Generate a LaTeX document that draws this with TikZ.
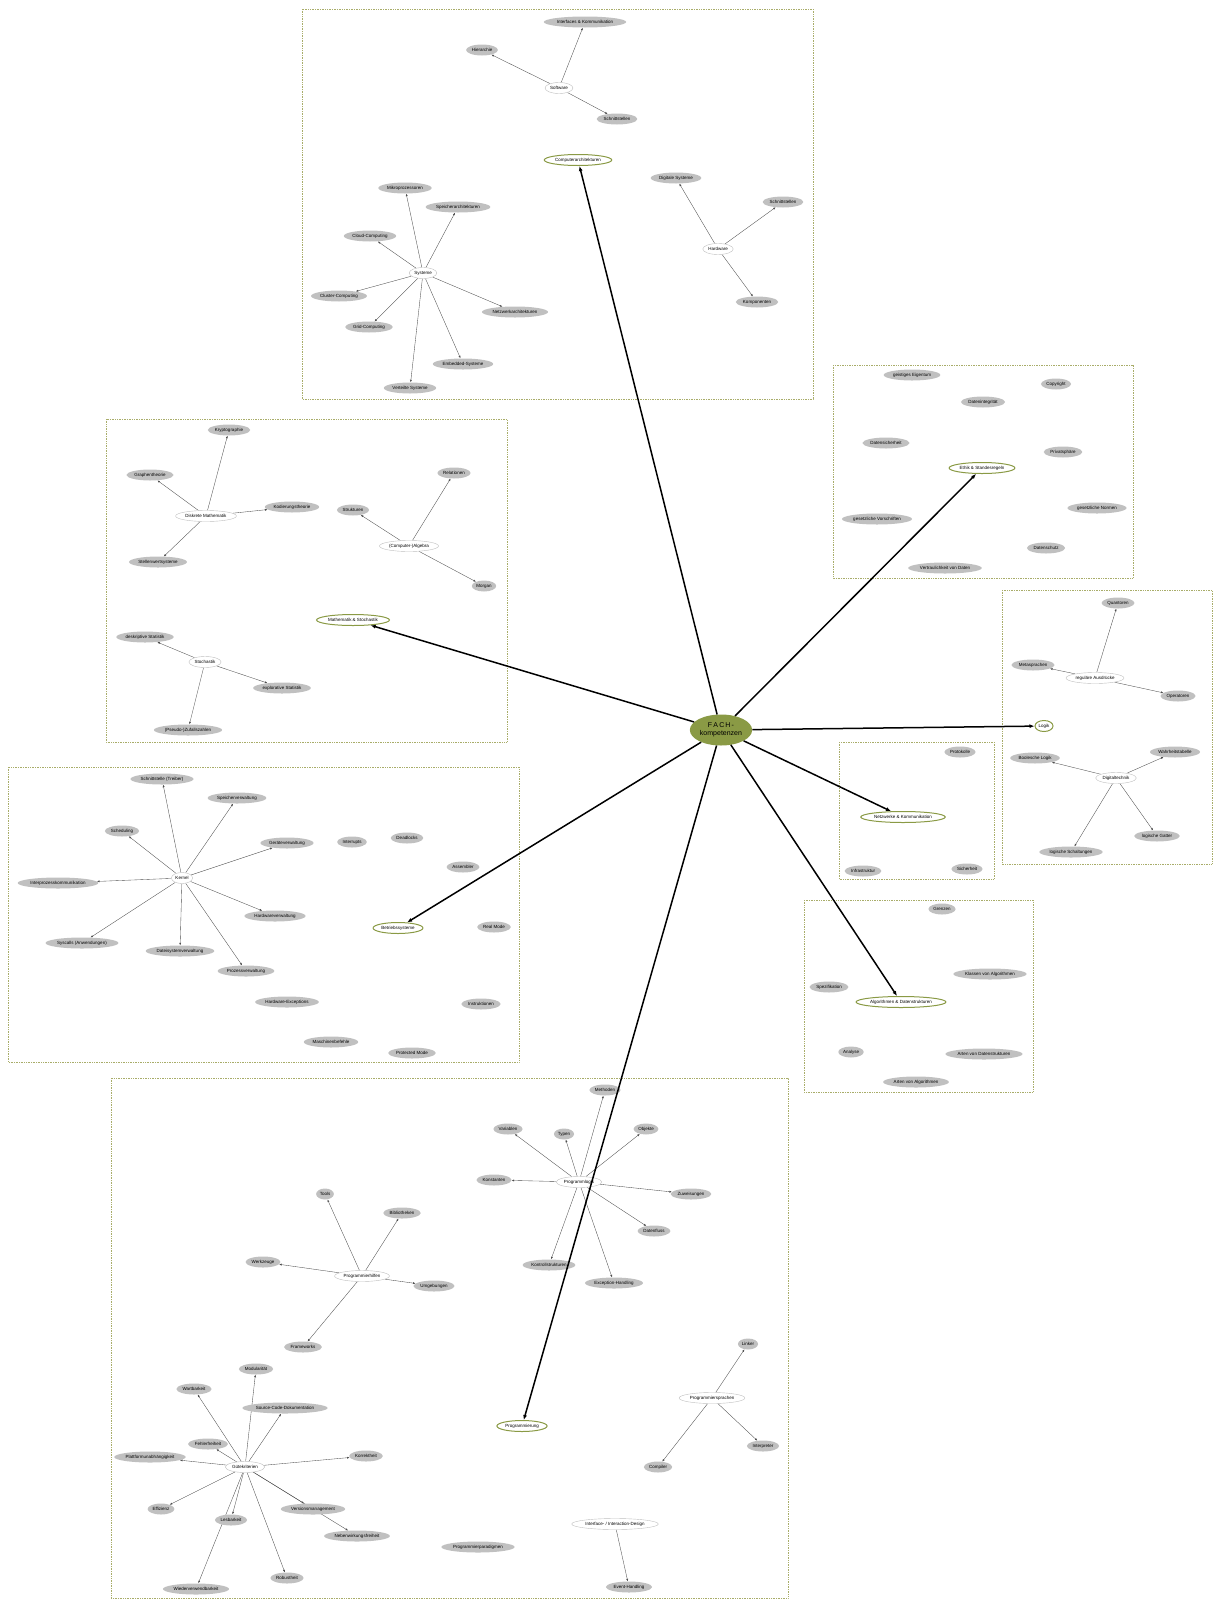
\documentclass[tikz,border=0pt]{standalone}
\usepackage{fontspec}
\setmainfont{Liberation Sans}
\usepackage{xcolor}
\usepackage{tikz}
\usetikzlibrary{shapes,arrows.meta,backgrounds}
\definecolor{oliv}{HTML}{8A9A45}
\definecolor{rahmenfarbe}{HTML}{A9AD6A}
\definecolor{blatt}{HTML}{C0C0C0}

\begin{document}
\begin{tikzpicture}[x=1pt,y=-1pt,font=\fontsize{4.5}{5}\selectfont,
  leaf/.style={ellipse, fill=blatt, inner xsep=1pt, inner ysep=1pt, minimum height=11pt},
  hub/.style={ellipse, draw=black!25, line width=0.4pt, fill=white, inner xsep=1pt, inner ysep=1pt, minimum height=11pt},
  topic/.style={ellipse, draw=oliv, line width=1pt, fill=white, inner xsep=1pt, inner ysep=1pt, minimum height=11pt},
  fach/.style={ellipse, fill=oliv, align=center, inner sep=1pt, minimum height=31pt, font=\fontsize{7}{8}\selectfont},
  rahmen/.style={densely dotted, draw=rahmenfarbe, line width=0.7pt},
  sub/.style={-{Latex[length=2.5pt,width=2pt]}, black!70, line width=0.35pt},
  haupt/.style={-{Latex[length=5pt,width=4pt]}, line width=1.5pt}]
\useasboundingbox (0,0) rectangle (1215,1601);

\draw[rahmen] (302,9) rectangle (813,399);
\draw[rahmen] (833,365) rectangle (1133,578);
\draw[rahmen] (1002,590) rectangle (1212,864);
\draw[rahmen] (106,419) rectangle (507,742);
\draw[rahmen] (8,767) rectangle (519,1062);
\draw[rahmen] (839,742) rectangle (994,879);
\draw[rahmen] (804,900) rectangle (1033,1092);
\draw[rahmen] (111,1078) rectangle (788,1598);

\node[fach] (fk) at (721,730) {F\,A\,C\,H\,-\\kompetenzen};

\node[topic] (ca) at (578,160) {Computerarchitekturen};
\node[hub] (sw) at (559,88) {Software};
\node[leaf] (ik) at (585,22) {Interfaces \& Kommunikation};
\node[leaf] (hi) at (482,50) {Hierarchie};
\node[leaf] (ssa) at (617,119) {Schnittstellen};
\node[hub] (hw) at (718,249) {Hardware};
\node[leaf] (dsy) at (676,178) {Digitale Systeme};
\node[leaf] (ssb) at (783,202) {Schnittstellen};
\node[leaf] (ko) at (757,302) {Komponenten};
\node[hub] (sy) at (423,273) {Systeme};
\node[leaf] (mp) at (405,188) {Mikroprozessoren};
\node[leaf] (sa) at (458,207) {Speicherarchitekturen};
\node[leaf] (cc) at (370,236) {Cloud-Computing};
\node[leaf] (cl) at (339,296) {Cluster-Computing};
\node[leaf] (na) at (515,312) {Netzwerkarchitekturen};
\node[leaf] (gc) at (369,327) {Grid-Computing};
\node[leaf] (es) at (463,364) {Embedded-Systeme};
\node[leaf] (vs) at (410,388) {Verteilte Systeme};

\node[topic] (et) at (982,468) {Ethik \& Standesregeln};
\node[leaf] (ge) at (912,375) {geistiges Eigentum};
\node[leaf] (cr) at (1056,384) {Copyright};
\node[leaf] (di) at (983,402) {Datenintegrität};
\node[leaf] (dsi) at (886,443) {Datensicherheit};
\node[leaf] (ps) at (1063,452) {Privatsphäre};
\node[leaf] (gn) at (1097,508) {gesetzliche Normen};
\node[leaf] (gv) at (877,519) {gesetzliche Vorschriften};
\node[leaf] (dsc) at (1046,548) {Datenschutz};
\node[leaf] (vd) at (945,568) {Vertraulichkeit von Daten};

\node[topic] (lo) at (1044,726) {Logik};
\node[hub] (ra) at (1095,678) {reguläre Ausdrücke};
\node[leaf] (qu) at (1118,603) {Quantoren};
\node[leaf] (ms) at (1033,665) {Metasprachen};
\node[leaf] (op) at (1178,696) {Operatoren};
\node[hub] (dt) at (1116,778) {Digitaltechnik};
\node[leaf] (bl) at (1035,758) {Boolesche Logik};
\node[leaf] (wt) at (1175,752) {Wahrheitstabelle};
\node[leaf] (lg) at (1157,836) {logische Gatter};
\node[leaf] (ls) at (1071,852) {logische Schaltungen};

\node[topic] (ma) at (353,620) {Mathematik \& Stochastik};
\node[hub] (dm) at (206,516) {Diskrete Mathematik};
\node[leaf] (kr) at (229,430) {Kryptographie};
\node[leaf] (gt) at (150,475) {Graphentheorie};
\node[leaf] (kt) at (292,507) {Kodierungstheorie};
\node[leaf] (sws) at (158,562) {Stellenwertsysteme};
\node[hub] (alg) at (409,546) {(Computer-)Algebra};
\node[leaf] (re) at (454,473) {Relationen};
\node[leaf] (st) at (353,510) {Strukturen};
\node[leaf] (mo) at (484,586) {Morgan};
\node[hub] (sto) at (205,662) {Stochastik};
\node[leaf] (dst) at (145,637) {deskriptive Statistik};
\node[leaf] (est) at (282,688) {explorative Statistik};
\node[leaf] (zz) at (188,730) {(Pseudo-)Zufallszahlen};

\node[topic] (bs) at (398,928) {Betriebssysteme};
\node[hub] (ke) at (182,878) {Kernel};
\node[leaf] (tr) at (162,779) {Schnittstelle (Treiber)};
\node[leaf] (spv) at (237,798) {Speicherverwaltung};
\node[leaf] (sc) at (122,831) {Scheduling};
\node[leaf] (gev) at (287,843) {Geräteverwaltung};
\node[leaf] (ipc) at (58,883) {Interprozesskommunikation};
\node[leaf] (hwv) at (275,916) {Hardwareverwaltung};
\node[leaf] (sca) at (82,943) {Syscalls (Anwendungen)};
\node[leaf] (dsv) at (180,951) {Dateisystemverwaltung};
\node[leaf] (prv) at (246,971) {Prozessverwaltung};
\node[leaf] (ir) at (352,842) {Interrupts};
\node[leaf] (dl) at (407,838) {Deadlocks};
\node[leaf] (as) at (463,867) {Assembler};
\node[leaf] (rm) at (494,927) {Real Mode};
\node[leaf] (hx) at (287,1002) {Hardware-Exceptions};
\node[leaf] (in) at (481,1004) {Instruktionen};
\node[leaf] (mb) at (331,1042) {Maschinenbefehle};
\node[leaf] (pm) at (412,1053) {Protected Mode};

\node[topic] (nk) at (903,817) {Netzwerke \& Kommunikation};
\node[leaf] (pk) at (960,752) {Protokolle};
\node[leaf] (is) at (863,871) {Infrastruktur};
\node[leaf] (si) at (967,869) {Sicherheit};

\node[topic] (al) at (901,1002) {Algorithmen \& Datenstrukturen};
\node[leaf] (gr) at (942,909) {Grenzen};
\node[leaf] (kva) at (990,974) {Klassen von Algorithmen};
\node[leaf] (sp) at (829,987) {Spezifikation};
\node[leaf] (an) at (851,1052) {Analyse};
\node[leaf] (avd) at (984,1054) {Arten von Datenstrukturen};
\node[leaf] (ava) at (916,1082) {Arten von Algorithmen};

\node[topic] (pr) at (522,1426) {Programmierung};
\node[hub] (pl) at (579,1182) {Programmlogik};
\node[leaf] (me) at (605,1090) {Methoden};
\node[leaf] (va) at (508,1129) {Variablen};
\node[leaf] (ty) at (564,1134) {Typen};
\node[leaf] (ob) at (646,1129) {Objekte};
\node[leaf] (kon) at (494,1180) {Konstanten};
\node[leaf] (zw) at (691,1194) {Zuweisungen};
\node[leaf] (df) at (654,1231) {Datenfluss};
\node[leaf] (ks) at (549,1265) {Kontrollstrukturen};
\node[leaf] (eh) at (614,1283) {Exception-Handling};
\node[hub] (ph) at (362,1276) {Programmierhilfen};
\node[leaf] (to) at (325,1194) {Tools};
\node[leaf] (bi) at (402,1213) {Bibliotheken};
\node[leaf] (wz) at (263,1262) {Werkzeuge};
\node[leaf] (ug) at (434,1286) {Umgebungen};
\node[leaf] (fw) at (303,1347) {Frameworks};
\node[hub] (gk) at (245,1467) {Gütekriterien};
\node[leaf] (mod) at (256,1369) {Modularität};
\node[leaf] (wb) at (194,1389) {Wartbarkeit};
\node[leaf] (scd) at (285,1408) {Source-Code-Dokumentation};
\node[leaf] (ff) at (208,1444) {Fehlerfreiheit};
\node[leaf] (pu) at (150,1457) {Plattformunabhängigkeit};
\node[leaf] (kh) at (366,1456) {Korrektheit};
\node[leaf] (ef) at (161,1509) {Effizienz};
\node[leaf] (lb) at (231,1520) {Lesbarkeit};
\node[leaf] (vm) at (313,1509) {Versionsmanagement};
\node[leaf] (nf) at (357,1536) {Nebenwirkungsfreiheit};
\node[leaf] (rb) at (287,1578) {Robustheit};
\node[leaf] (wv) at (196,1589) {Wiederverwendbarkeit};
\node[hub] (psp) at (712,1398) {Programmiersprachen};
\node[leaf] (li) at (748,1344) {Linker};
\node[leaf] (ip) at (763,1446) {Interpreter};
\node[leaf] (co) at (658,1467) {Compiler};
\node[hub] (iid) at (615,1524) {Interface- / Interaction-Design};
\node[leaf] (evh) at (629,1587) {Event-Handling};
\node[leaf] (pp) at (478,1547) {Programmierparadigmen};

\begin{scope}[on background layer]
\draw[sub] (sw) edge (ik) edge (hi) edge (ssa);
\draw[sub] (hw) edge (dsy) edge (ssb) edge (ko);
\draw[sub] (sy) edge (mp) edge (sa) edge (cc) edge (cl) edge (na) edge (gc) edge (es) edge (vs);
\draw[sub] (ra) edge (qu) edge (ms) edge (op);
\draw[sub] (dt) edge (bl) edge (wt) edge (lg) edge (ls);
\draw[sub] (dm) edge (kr) edge (gt) edge (kt) edge (sws);
\draw[sub] (alg) edge (re) edge (st) edge (mo);
\draw[sub] (sto) edge (dst) edge (est) edge (zz);
\draw[sub] (ke) edge (tr) edge (spv) edge (sc) edge (gev) edge (ipc) edge (hwv) edge (sca) edge (dsv) edge (prv);
\draw[sub] (pl) edge (me) edge (va) edge (ty) edge (ob) edge (kon) edge (zw) edge (df) edge (ks) edge (eh);
\draw[sub] (ph) edge (to) edge (bi) edge (wz) edge (ug) edge (fw);
\draw[sub] (gk) edge (mod) edge (wb) edge (scd) edge (ff) edge (pu) edge (kh) edge (ef) edge (lb) edge (vm) edge (nf) edge (rb) edge (wv);
\draw[sub] (psp) edge (li) edge (ip) edge (co);
\draw[sub] (iid) edge (evh);
\end{scope}

\draw[haupt] (fk) -- (ca);
\draw[haupt] (fk) -- (et);
\draw[haupt] (fk) -- (lo);
\draw[haupt] (fk) -- (ma);
\draw[haupt] (fk) -- (bs);
\draw[haupt] (fk) -- (nk);
\draw[haupt] (fk) -- (al);
\draw[haupt] (fk) -- (pr);
\end{tikzpicture}
\end{document}
